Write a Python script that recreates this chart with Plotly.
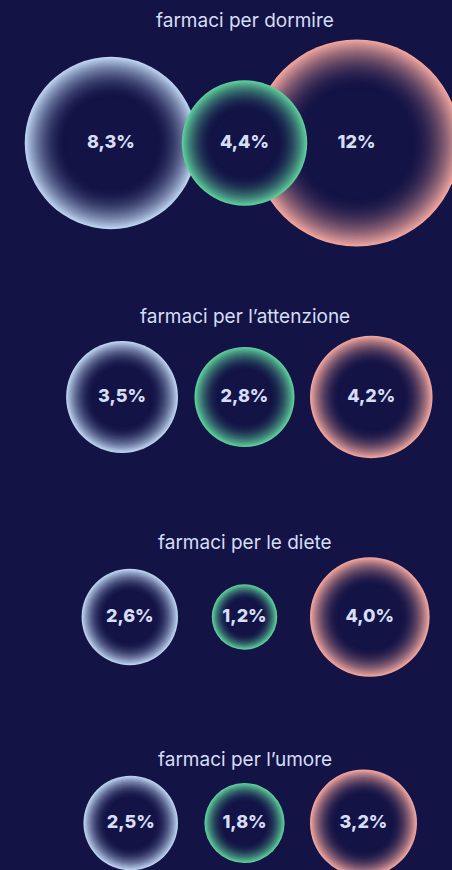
import numpy as np
import plotly.graph_objects as go

# --- data -------------------------------------------------------------
categories = [
    "farmaci per dormire",
    "farmaci per l\u2019attenzione",
    "farmaci per le diete",
    "farmaci per l\u2019umore",
]
serie_blu = [8.3, 3.5, 2.6, 2.5]
serie_verde = [4.4, 2.8, 1.2, 1.8]
serie_rosa = [12.0, 4.2, 4.0, 3.2]

# --- style / layout ---------------------------------------------------
W, H = 452, 870
BG = (19, 19, 70)
TEXT = "#d6def5"
EDGE_BLU = (190, 212, 242)
EDGE_VERDE = (95, 208, 156)
EDGE_ROSA = (242, 166, 158)
K = 29.9                      # px of radius per sqrt(percentage point)
ROW_Y = [143, 397, 617, 823]
TITLE_Y = [20, 316, 542, 759]
MID_X = 244.5
BLUE_EDGE = [197, 178, 178, 178]   # right edge of the left bubble
PINK_EDGE = [253, 310, 310, 310]   # left edge of the right bubble
FONT = "Inter, Roboto, sans-serif"


def radius(v):
    return K * np.sqrt(v)


def fmt(v):
    s = f"{v:.1f}" if v < 10 else f"{v:.0f}"
    return s.replace(".", ",") + "%"


def glow_trace(cx, cy, r, edge):
    """Concentric opaque discs fading from the rim colour to the background."""
    inner = 0.52 * r
    n = max(int((r - inner) / 0.8), 12)
    radii = np.linspace(r, inner, n)
    cols = []
    for rr in radii:
        t = (rr - inner) / (r - inner)
        t = t ** 1.9
        c = [int(round(BG[i] + (edge[i] - BG[i]) * t)) for i in range(3)]
        cols.append(f"rgb({c[0]},{c[1]},{c[2]})")
    return go.Scatter(
        x=[cx] * n,
        y=[cy] * n,
        mode="markers",
        marker=dict(size=list(2 * radii), color=cols, line=dict(width=0), opacity=1),
        hoverinfo="skip",
        showlegend=False,
    )


fig = go.Figure()
labels_x, labels_y, labels_t = [], [], []

for i, cat in enumerate(categories):
    cy = ROW_Y[i]
    rb, rg, rp = radius(serie_blu[i]), radius(serie_verde[i]), radius(serie_rosa[i])
    xb = BLUE_EDGE[i] - rb
    xp = PINK_EDGE[i] + rp
    xg = MID_X
    # left and right bubbles first, the middle one sits on top
    fig.add_trace(glow_trace(xb, cy, rb, EDGE_BLU))
    fig.add_trace(glow_trace(xp, cy, rp, EDGE_ROSA))
    fig.add_trace(glow_trace(xg, cy, rg, EDGE_VERDE))
    for x, v in ((xb, serie_blu[i]), (xg, serie_verde[i]), (xp, serie_rosa[i])):
        labels_x.append(x)
        labels_y.append(cy)
        labels_t.append(fmt(v))
    fig.add_annotation(
        x=MID_X, y=TITLE_Y[i], text=cat, showarrow=False,
        font=dict(family=FONT, size=19, color=TEXT),
        xanchor="center", yanchor="middle",
    )

fig.add_trace(go.Scatter(
    x=labels_x, y=labels_y, text=labels_t, mode="text",
    textfont=dict(family=FONT, size=18, color=TEXT, weight=800),
    textposition="middle center", hoverinfo="skip", showlegend=False,
))

fig.update_layout(
    width=W, height=H,
    margin=dict(l=0, r=0, t=0, b=0),
    paper_bgcolor=f"rgb{BG}",
    plot_bgcolor=f"rgb{BG}",
    xaxis=dict(range=[0, W], visible=False, fixedrange=True),
    yaxis=dict(range=[H, 0], visible=False, fixedrange=True),
)

fig.write_html("out.html", config={"displayModeBar": False})
